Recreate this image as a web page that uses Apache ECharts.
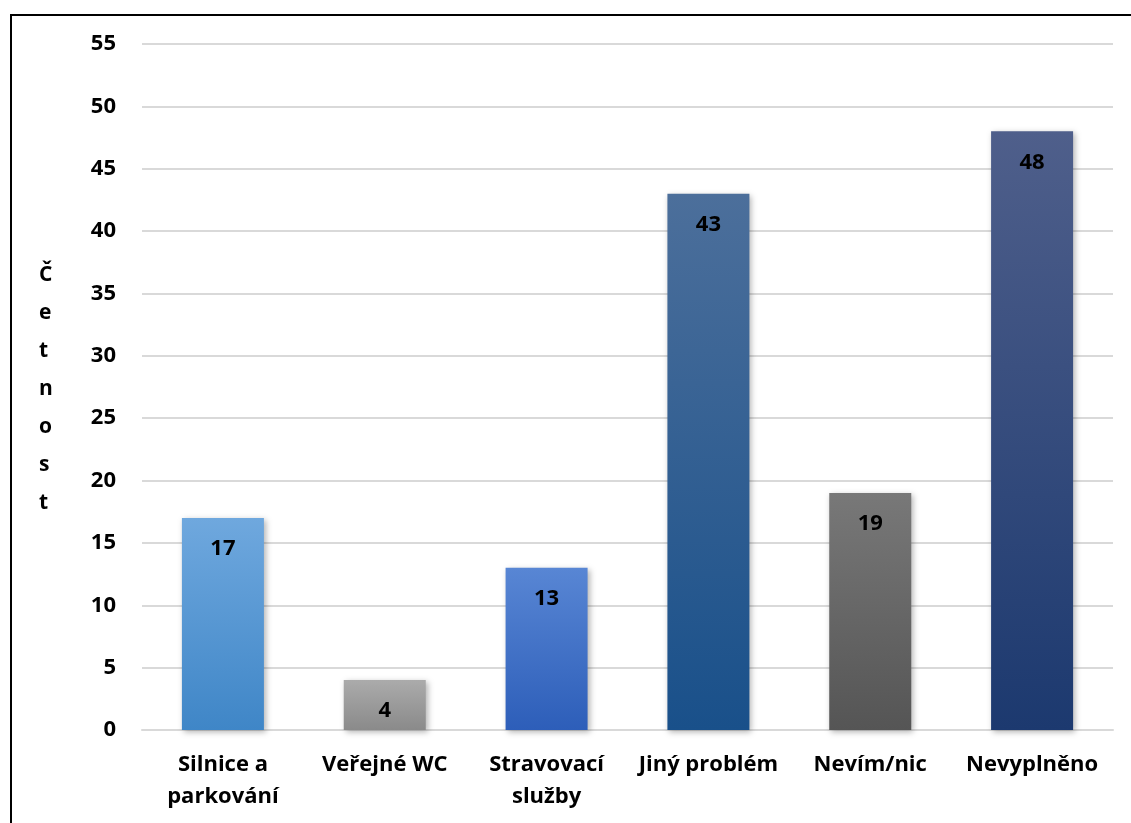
<!DOCTYPE html>
<html>
<head>
<meta charset="utf-8">
<title>Četnost</title>
<script src="https://cdn.jsdelivr.net/npm/echarts@6/dist/echarts.min.js"></script>
<style>
  html, body { margin: 0; padding: 0; background: #ffffff; }
  #chart { width: 1131px; height: 823px; }
</style>
</head>
<body>
<div id="chart"></div>
<script>
// Categories and counts
const categories = ['Silnice a\nparkování', 'Veřejné WC', 'Stravovací\nslužby', 'Jiný problém', 'Nevím/nic', 'Nevyplněno'];
const counts = [17, 4, 13, 43, 19, 48];

// Top and bottom colours of each bar's vertical gradient
const topColors = ['#6fa8de', '#ababab', '#5886d4', '#4c6f9b', '#787878', '#4f5f8b'];
const bottomColors = ['#3f86c7', '#8a8a8a', '#2d5eb9', '#19508a', '#555555', '#1c396f'];

const FONT = '"Open Sans", "Noto Sans", sans-serif';

const chart = echarts.init(document.getElementById('chart'), null, { renderer: 'canvas' });

const barData = counts.map((v, i) => ({
  value: v,
  itemStyle: {
    color: {
      type: 'linear', x: 0, y: 0, x2: 0, y2: 1,
      colorStops: [
        { offset: 0, color: topColors[i] },
        { offset: 1, color: bottomColors[i] }
      ]
    }
  }
}));

chart.setOption({
  animation: false,
  backgroundColor: '#ffffff',
  graphic: [
    {
      type: 'rect',
      shape: { x: 11, y: 15, width: 1200, height: 900 },
      style: { fill: 'none', stroke: '#000000', lineWidth: 2 },
      silent: true
    },
    {
      type: 'text',
      left: 39,
      top: 256,
      style: {
        text: 'Četnost'.split('').join('\n'),
        font: 'bold 21px ' + FONT,
        fill: '#000000',
        lineHeight: 38,
        align: 'center'
      }
    }
  ],
  grid: { left: 142, right: 18, top: 44, bottom: 93, containLabel: false },
  xAxis: {
    type: 'category',
    data: categories,
    axisLine: { show: true, lineStyle: { color: '#d9d9d9', width: 2 } },
    axisTick: { show: false },
    axisLabel: {
      color: '#000000',
      fontFamily: FONT,
      fontWeight: 'bold',
      fontSize: 22,
      lineHeight: 32,
      margin: 19,
      interval: 0
    }
  },
  yAxis: {
    type: 'value',
    min: 0,
    max: 55,
    interval: 5,
    axisLine: { show: false },
    axisTick: { show: false },
    splitLine: { lineStyle: { color: '#d9d9d9', width: 2 } },
    axisLabel: {
      color: '#000000',
      fontFamily: FONT,
      fontWeight: 'bold',
      fontSize: 22,
      margin: 26
    }
  },
  series: [{
    type: 'bar',
    data: barData,
    barWidth: 82,
    itemStyle: {
      shadowBlur: 6,
      shadowColor: 'rgba(0,0,0,0.3)',
      shadowOffsetX: 2,
      shadowOffsetY: 2
    },
    label: {
      show: true,
      position: 'insideTop',
      distance: 20,
      color: '#000000',
      fontFamily: FONT,
      fontWeight: 'bold',
      fontSize: 22
    }
  }]
});
</script>
</body>
</html>
